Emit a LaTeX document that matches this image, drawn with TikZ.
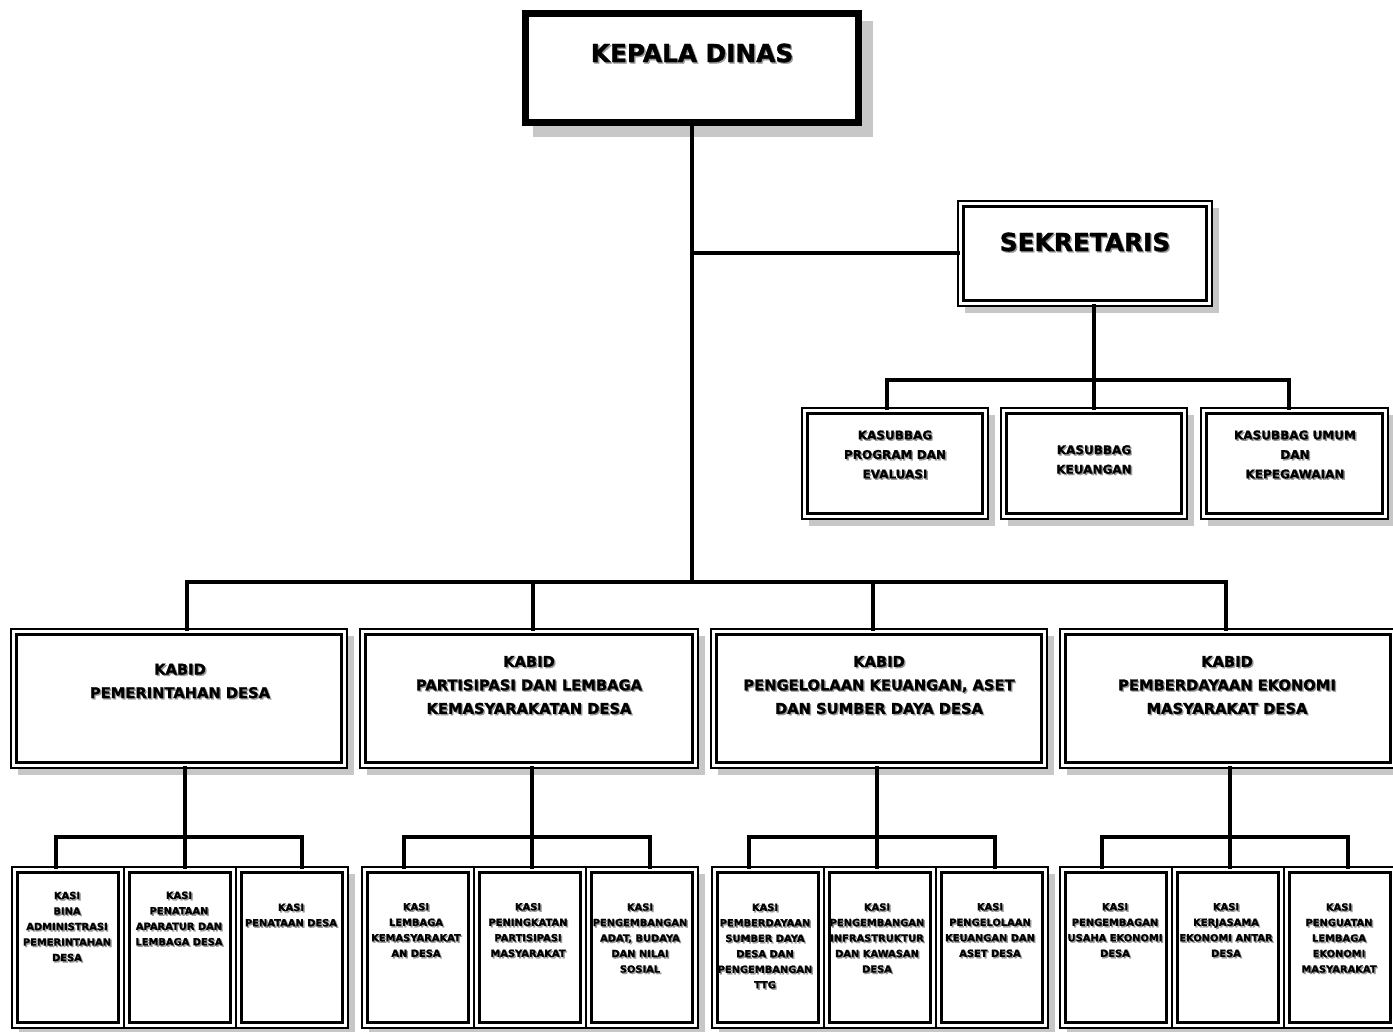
\documentclass[tikz,border=0pt]{standalone}
\usepackage{fontspec}
\setmainfont{DejaVu Sans}[BoldFeatures={FakeBold=1.4}]
\tikzset{
  x=1pt, y=-1pt,
  shc/.style={fill=black!22},
  boxn/.style={draw, line width=2pt, fill=white, inner sep=0pt, outer sep=0pt},
  inl/.style={draw, line width=3pt},
  conn/.style={draw, line width=4pt, line cap=rect},
  txt/.style={align=center, inner sep=0pt, text=black},
  txtsh/.style={align=center, inner sep=0pt, text=black!40},
  bigf/.style={font=\fontsize{24.8}{28}\selectfont\bfseries},
  kabf/.style={font=\fontsize{14.7}{23.5}\selectfont\bfseries},
  ksf/.style={font=\fontsize{12}{19.5}\selectfont\bfseries},
  kasf/.style={font=\fontsize{9.9}{15.5}\selectfont\bfseries},
}
\newcommand\obox[5]{%
  \fill[shc] (#2+7,#3+7) rectangle (#4+7,#5+7);
  \node[boxn, minimum width={(#4-#2)*1pt}, minimum height={(#5-#3)*1pt}] (#1) at ({(#2+#4)/2},{(#3+#5)/2}) {};
  \draw[inl] ([shift={(5.5pt,-5.5pt)}]#1.north west) rectangle ([shift={(-5.5pt,5.5pt)}]#1.south east);
}
\newcommand\tx[5]{%
  \node[txtsh,#4] at (#2+1.4,#3+1.4) {#5};
  \node[txt,#4] (#1) at (#2,#3) {#5};
}
\begin{document}
\begin{tikzpicture}
\useasboundingbox (0,0) rectangle (1393,1032);
\clip (0,0) rectangle (1393,1032);
\fill[white] (0,0) rectangle (1393,1032);

% ---- bus coordinates
\coordinate (busA) at (187,582);
\coordinate (busB) at (533,582);
\coordinate (busC) at (873,582);
\coordinate (busD) at (1226,582);
\coordinate (ksL) at (887,380);
\coordinate (ksR) at (1289,380);
\coordinate (g1L) at (56,837);  \coordinate (g1M) at (185,837); \coordinate (g1R) at (302,837);
\coordinate (g2L) at (404,837); \coordinate (g2M) at (532,837); \coordinate (g2R) at (650,837);
\coordinate (g3L) at (749,837); \coordinate (g3M) at (877,837); \coordinate (g3R) at (995,837);
\coordinate (g4L) at (1102,837);\coordinate (g4M) at (1230,837);\coordinate (g4R) at (1348,837);

% ---- top box
\fill[shc] (533,21) rectangle (873,137);
\node[draw, line width=7pt, fill=white, inner sep=0pt, minimum width=333pt, minimum height=109pt] (kd) at (692,68) {};
\draw[line width=1.5pt] ([shift={(6.5pt,-6.5pt)}]kd.north west) rectangle ([shift={(-6.5pt,6.5pt)}]kd.south east);
\tx{kdt}{692}{53}{bigf}{KEPALA DINAS}

% ---- sekretaris
\obox{sek}{958}{201}{1212}{306}
\tx{sekt}{1085}{242}{bigf}{SEKRETARIS}

% ---- kasubbag
\obox{ks1}{802}{408}{988}{519}
\obox{ks2}{1001}{408}{1187}{519}
\obox{ks3}{1201}{408}{1388}{519}
\tx{ks1t}{895}{454.5}{ksf}{KASUBBAG\\PROGRAM DAN\\EVALUASI}
\tx{ks2t}{1094}{459.5}{ksf}{KASUBBAG\\KEUANGAN}
\tx{ks3t}{1295}{454.5}{ksf}{KASUBBAG UMUM\\DAN\\KEPEGAWAIAN}

% ---- kabid
\obox{kb1}{11}{629}{347}{768}
\obox{kb2}{360}{629}{698}{768}
\obox{kb3}{711}{629}{1047}{768}
\obox{kb4}{1060}{629}{1396}{768}
\tx{kb1t}{180}{681}{kabf}{KABID\\PEMERINTAHAN DESA}
\tx{kb2t}{529}{685}{kabf}{KABID\\PARTISIPASI DAN LEMBAGA\\KEMASYARAKATAN DESA}
\tx{kb3t}{879}{685}{kabf}{KABID\\PENGELOLAAN KEUANGAN, ASET\\DAN SUMBER DAYA DESA}
\tx{kb4t}{1227}{685}{kabf}{KABID\\PEMBERDAYAAN EKONOMI\\MASYARAKAT DESA}

% ---- kasi
\obox{k11}{12}{867}{124}{1028}
\obox{k12}{124}{867}{236}{1028}
\obox{k13}{236}{867}{348}{1028}
\obox{k21}{362}{867}{474}{1028}
\obox{k22}{474}{867}{586}{1028}
\obox{k23}{586}{867}{698}{1028}
\obox{k31}{712}{867}{824}{1028}
\obox{k32}{824}{867}{936}{1028}
\obox{k33}{936}{867}{1048}{1028}
\obox{k41}{1060}{867}{1172}{1028}
\obox{k42}{1172}{867}{1284}{1028}
\obox{k43}{1284}{867}{1396}{1028}

\tx{k11t}{67}{926.5}{kasf}{KASI\\BINA\\ADMINISTRASI\\PEMERINTAHAN\\DESA}
\tx{k12t}{179}{918.5}{kasf}{KASI\\PENATAAN\\APARATUR DAN\\LEMBAGA DESA}
\tx{k13t}{291}{915}{kasf}{KASI\\PENATAAN DESA}
\tx{k21t}{416}{930}{kasf}{KASI\\LEMBAGA\\KEMASYARAKAT\\AN DESA}
\tx{k22t}{528}{930}{kasf}{KASI\\PENINGKATAN\\PARTISIPASI\\MASYARAKAT}
\tx{k23t}{640}{938}{kasf}{KASI\\PENGEMBANGAN\\ADAT, BUDAYA\\DAN NILAI\\SOSIAL}
\tx{k31t}{765}{946}{kasf}{KASI\\PEMBERDAYAAN\\SUMBER DAYA\\DESA DAN\\PENGEMBANGAN\\TTG}
\tx{k32t}{877}{938}{kasf}{KASI\\PENGEMBANGAN\\INFRASTRUKTUR\\DAN KAWASAN\\DESA}
\tx{k33t}{990}{930}{kasf}{KASI\\PENGELOLAAN\\KEUANGAN DAN\\ASET DESA}
\tx{k41t}{1115}{930}{kasf}{KASI\\PENGEMBAGAN\\USAHA EKONOMI\\DESA}
\tx{k42t}{1226}{930}{kasf}{KASI\\KERJASAMA\\EKONOMI ANTAR\\DESA}
\tx{k43t}{1339}{938}{kasf}{KASI\\PENGUATAN\\LEMBAGA\\EKONOMI\\MASYARAKAT}

% ---- connectors
\draw[conn] (kd.south) -- (kd.south |- busA);
\draw[conn] (kd.south |- sek.west) -- (sek.west);
\draw[conn] (busA) -- (busD);
\draw[conn] (busA) -- (busA |- kb1.north);
\draw[conn] (busB) -- (busB |- kb2.north);
\draw[conn] (busC) -- (busC |- kb3.north);
\draw[conn] (busD) -- (busD |- kb4.north);

\draw[conn] (ks2.north |- sek.south) -- (ks2.north);
\draw[conn] (ksL |- ks1.north) -- (ksL) -- (ksR) -- (ksR |- ks3.north);

\draw[conn] (g1M |- kb1.south) -- (g1M |- k12.north);
\draw[conn] (g1L |- k11.north) -- (g1L) -- (g1R) -- (g1R |- k13.north);
\draw[conn] (g2M |- kb2.south) -- (g2M |- k22.north);
\draw[conn] (g2L |- k21.north) -- (g2L) -- (g2R) -- (g2R |- k23.north);
\draw[conn] (g3M |- kb3.south) -- (g3M |- k32.north);
\draw[conn] (g3L |- k31.north) -- (g3L) -- (g3R) -- (g3R |- k33.north);
\draw[conn] (g4M |- kb4.south) -- (g4M |- k42.north);
\draw[conn] (g4L |- k41.north) -- (g4L) -- (g4R) -- (g4R |- k43.north);
\end{tikzpicture}
\end{document}
